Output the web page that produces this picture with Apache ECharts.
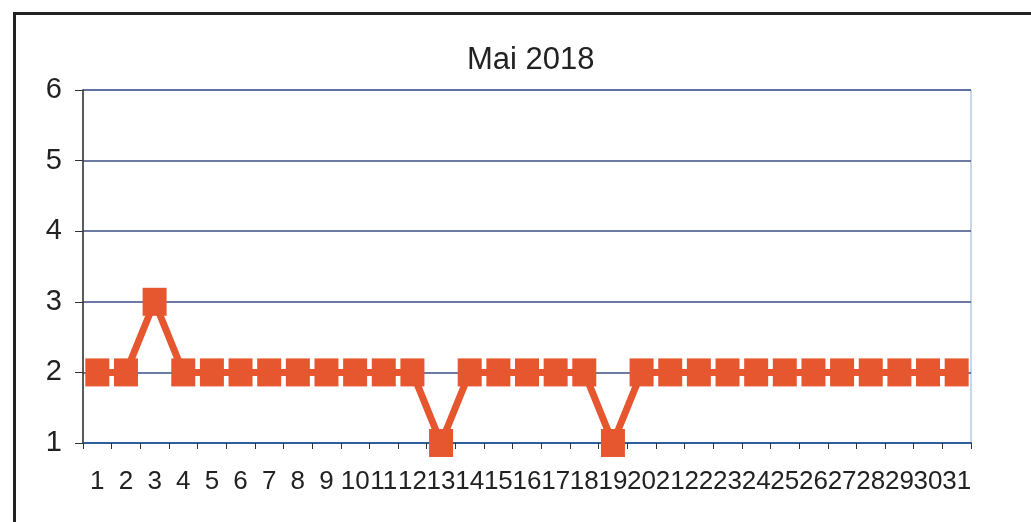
<!DOCTYPE html>
<html>
<head>
<meta charset="utf-8">
<script src="https://cdn.jsdelivr.net/npm/echarts@6/dist/echarts.min.js"></script>
<style>
  html, body { margin: 0; padding: 0; background: #fff; overflow: hidden; }
  #frame { position: absolute; left: 13px; top: 12px; width: 1100px; height: 600px;
           border: 3px solid #222; box-sizing: border-box; }
  #chart { position: absolute; left: 0; top: 0; width: 1031px; height: 522px; }
</style>
</head>
<body>
<div id="frame"></div>
<div id="chart"></div>
<script>
var days = [];
for (var d = 1; d <= 31; d++) days.push(String(d));

var values = [2, 2, 3, 2, 2, 2, 2, 2, 2, 2, 2, 2, 1, 2, 2, 2, 2, 2, 1, 2,
              2, 2, 2, 2, 2, 2, 2, 2, 2, 2, 2];

var myChart = echarts.init(document.getElementById('chart'));

var option = {
    animation: false,
    title: {
        text: 'Mai 2018',
        left: 462,
        top: 40,
        textStyle: { fontFamily: 'Liberation Sans', fontSize: 31, fontWeight: 'normal', color: '#222' }
    },
    grid: { left: 83, right: 60, top: 90, bottom: 79, show: true, borderColor: '#8fb0dc', borderWidth: 1 },
    xAxis: {
        type: 'category',
        data: days,
        boundaryGap: true,
        axisLine: { lineStyle: { color: '#2f5f9a', width: 2 } },
        axisTick: { show: true, length: 6, lineStyle: { color: '#333' } },
        axisLabel: { interval: 0, margin: 26, hideOverlap: false, fontFamily: 'Liberation Sans', fontSize: 26, color: '#222' }
    },
    yAxis: {
        type: 'value',
        min: 1,
        max: 6,
        interval: 1,
        axisLine: { show: true, lineStyle: { color: '#333', width: 1.5 } },
        axisTick: { show: true, length: 8, lineStyle: { color: '#333' } },
        axisLabel: { margin: 21, fontFamily: 'Liberation Sans', fontSize: 29, color: '#222' },
        splitLine: { lineStyle: { color: '#3d4f86', width: 1.5 } }
    },
    series: [{
        type: 'line',
        data: values,
        symbol: 'rect',
        symbolSize: [24, 28],
        lineStyle: { color: '#e6572f', width: 7 },
        itemStyle: { color: '#e6572f' }
    }]
};

myChart.setOption(option);
</script>
</body>
</html>
